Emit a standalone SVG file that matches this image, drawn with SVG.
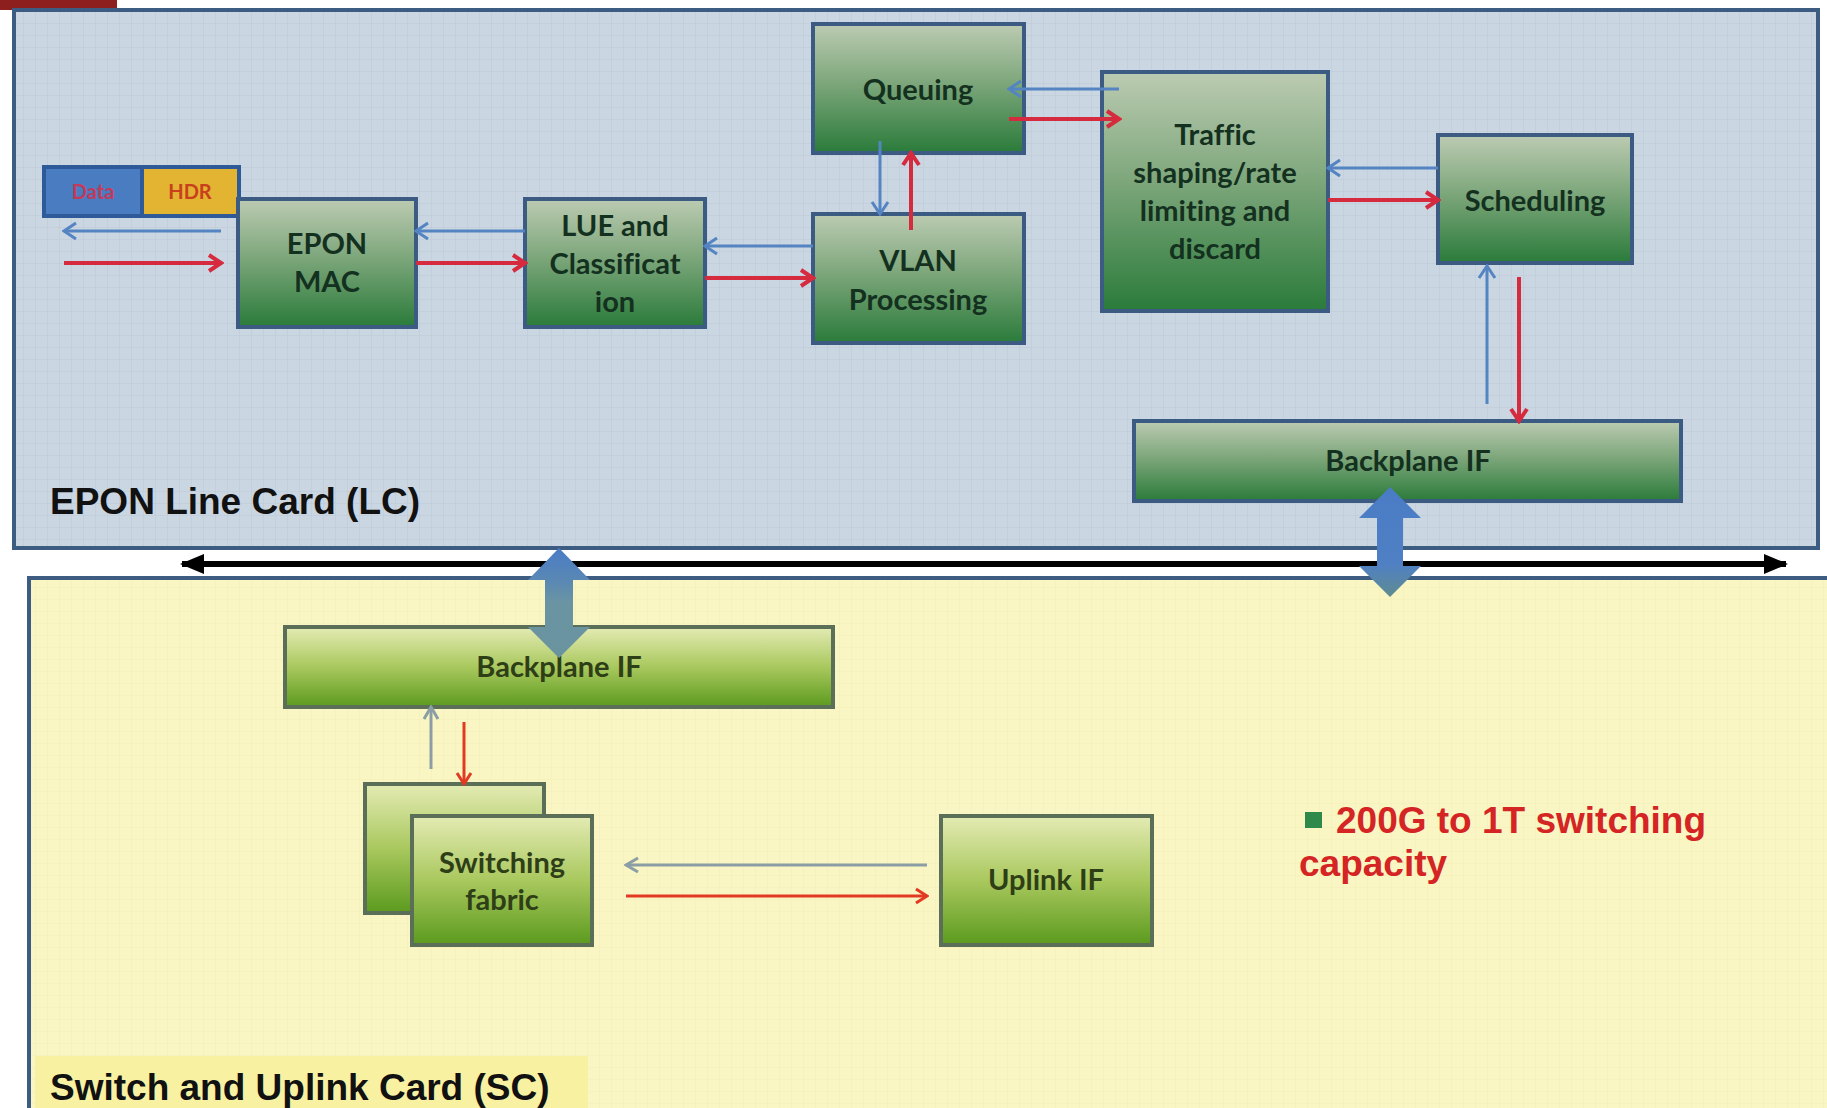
<svg xmlns="http://www.w3.org/2000/svg" width="1827" height="1108" viewBox="0 0 1827 1108">
  <defs>
    <linearGradient id="gLC" x1="0" y1="0" x2="0" y2="1">
      <stop offset="0" stop-color="#bccbb2"/>
      <stop offset="0.45" stop-color="#7ea77c"/>
      <stop offset="1" stop-color="#2a7b3a"/>
    </linearGradient>
    <linearGradient id="gSC" x1="0" y1="0" x2="0" y2="1">
      <stop offset="0" stop-color="#e4ebb4"/>
      <stop offset="0.5" stop-color="#a9c85e"/>
      <stop offset="1" stop-color="#5b9a1e"/>
    </linearGradient>
    <linearGradient id="gBigR" x1="0" y1="0" x2="0" y2="1">
      <stop offset="0" stop-color="#4a7cc6"/>
      <stop offset="0.7" stop-color="#4f80c4"/>
      <stop offset="1" stop-color="#5f8c90"/>
    </linearGradient>
    <linearGradient id="gBigL" x1="0" y1="0" x2="0" y2="1">
      <stop offset="0" stop-color="#4a7cc6"/>
      <stop offset="0.3" stop-color="#5a88b4"/>
      <stop offset="0.5" stop-color="#6b94a2"/>
      <stop offset="1" stop-color="#6a93a0"/>
    </linearGradient>
    <pattern id="gridLC" width="12" height="12" patternUnits="userSpaceOnUse">
      <rect width="12" height="12" fill="#cad6e1"/>
      <path d="M12,0 V12 M0,12 H12" stroke="#bccad8" stroke-width="1" fill="none"/>
    </pattern>
    <pattern id="gridSC" width="12" height="12" patternUnits="userSpaceOnUse">
      <rect width="12" height="12" fill="#f9f6c3"/>
      <path d="M12,0 V12 M0,12 H12" stroke="#f2eeb8" stroke-width="1" fill="none"/>
    </pattern>
    <marker id="hRed" viewBox="0 0 18 22" refX="15" refY="11" markerWidth="18" markerHeight="22" markerUnits="userSpaceOnUse" orient="auto">
      <path d="M3,3 L15,11 L3,19" fill="none" stroke="#d62a3e" stroke-width="4"/>
    </marker>
    <marker id="hBlue" viewBox="0 0 16 20" refX="14" refY="10" markerWidth="16" markerHeight="20" markerUnits="userSpaceOnUse" orient="auto">
      <path d="M2,2 L14,10 L2,18" fill="none" stroke="#5484c2" stroke-width="3"/>
    </marker>
    <marker id="hOrange" viewBox="0 0 16 20" refX="14" refY="10" markerWidth="16" markerHeight="20" markerUnits="userSpaceOnUse" orient="auto">
      <path d="M3,3 L14,10 L3,17" fill="none" stroke="#e23a22" stroke-width="3"/>
    </marker>
    <marker id="hGrey" viewBox="0 0 16 20" refX="14" refY="10" markerWidth="16" markerHeight="20" markerUnits="userSpaceOnUse" orient="auto">
      <path d="M2,3 L14,10 L2,17" fill="none" stroke="#8b9ea6" stroke-width="3"/>
    </marker>
    <marker id="hBlack" viewBox="0 0 24 20" refX="22" refY="10" markerWidth="24" markerHeight="20" markerUnits="userSpaceOnUse" orient="auto-start-reverse">
      <path d="M0,0 L24,10 L0,20 Z" fill="#000"/>
    </marker>
    <style>
      .lc { fill: url(#gLC); stroke: #3b5b82; stroke-width: 4; }
      .sc { fill: url(#gSC); stroke: #5b6f58; stroke-width: 4; }
      .t { font-family: Lato, "Open Sans", sans-serif; font-weight: 700; font-size: 29px; fill: #14301f; text-anchor: middle; font-variant-ligatures: none; }
      .ts { font-family: Lato, "Open Sans", sans-serif; font-weight: 700; font-size: 29px; fill: #2e3e16; text-anchor: middle; font-variant-ligatures: none; }
      .lbl { font-family: "Liberation Sans", Arial, sans-serif; font-weight: 700; font-size: 37px; fill: #111; }
      .red { stroke: #d62a3e; stroke-width: 4; fill: none; marker-end: url(#hRed); }
      .blue { stroke: #5484c2; stroke-width: 3; fill: none; marker-end: url(#hBlue); }
      .org { stroke: #e23a22; stroke-width: 3; fill: none; marker-end: url(#hOrange); }
      .grey { stroke: #8b9ea6; stroke-width: 3; fill: none; marker-end: url(#hGrey); }
    </style>
  </defs>

  <rect width="1827" height="1108" fill="#ffffff"/>

  <!-- corner tab -->
  <rect x="0" y="0" width="117" height="10" fill="#8e1f1f"/>

  <!-- line card panel -->
  <g id="panel-lc">
    <rect x="14" y="10" width="1804" height="538" fill="url(#gridLC)" stroke="#3d5c82" stroke-width="4"/>
    <text class="lbl" x="50" y="514">EPON Line Card (LC)</text>
  </g>

  <!-- switch and uplink card panel -->
  <g id="panel-sc">
    <rect x="29" y="578" width="1810" height="560" fill="url(#gridSC)" stroke="#3d5c82" stroke-width="4"/>
    <rect x="35" y="1056" width="553" height="52" fill="#f8f1a2"/>
    <text class="lbl" x="50" y="1100">Switch and Uplink Card (SC)</text>
  </g>

  <!-- backplane bus -->
  <g id="bus">
    <line x1="178" y1="564" x2="1790" y2="564" stroke="#ffffff" stroke-width="14"/>
    <line x1="182" y1="564" x2="1786" y2="564" stroke="#000" stroke-width="6" marker-start="url(#hBlack)" marker-end="url(#hBlack)"/>
  </g>

  <!-- frame header -->
  <g id="data-hdr">
    <rect x="44" y="167" width="98" height="49" fill="#4a7cc2" stroke="#2f5a9a" stroke-width="4"/>
    <rect x="142" y="167" width="97" height="49" fill="#e2b432" stroke="#2f5a9a" stroke-width="4"/>
    <text x="93" y="199" font-family="Lato, sans-serif" font-weight="700" font-size="20" fill="#c23a5a" text-anchor="middle">Data</text>
    <text x="190" y="199" font-family="Lato, sans-serif" font-weight="700" font-size="20" fill="#c8401c" text-anchor="middle">HDR</text>
  </g>

  <g id="epon-mac">
    <rect class="lc" x="238" y="199" width="178" height="128"/>
    <text class="t" x="327" y="254">EPON</text>
    <text class="t" x="327" y="292">MAC</text>
  </g>

  <g id="lue">
    <rect class="lc" x="525" y="199" width="180" height="128"/>
    <text class="t" x="615" y="236">LUE and</text>
    <text class="t" x="615" y="274">Classificat</text>
    <text class="t" x="615" y="312">ion</text>
  </g>

  <g id="queuing">
    <rect class="lc" x="813" y="24" width="211" height="129"/>
    <text class="t" x="918" y="100">Queuing</text>
  </g>

  <g id="vlan">
    <rect class="lc" x="813" y="214" width="211" height="129"/>
    <text class="t" x="918" y="271">VLAN</text>
    <text class="t" x="918" y="310">Processing</text>
  </g>

  <g id="traffic">
    <rect class="lc" x="1102" y="72" width="226" height="239"/>
    <text class="t" x="1215" y="145">Traffic</text>
    <text class="t" x="1215" y="183">shaping/rate</text>
    <text class="t" x="1215" y="221">limiting and</text>
    <text class="t" x="1215" y="259">discard</text>
  </g>

  <g id="scheduling">
    <rect class="lc" x="1438" y="135" width="194" height="128"/>
    <text class="t" x="1535" y="211">Scheduling</text>
  </g>

  <g id="backplane-lc">
    <rect class="lc" x="1134" y="421" width="547" height="80"/>
    <text class="t" x="1408" y="471">Backplane IF</text>
  </g>

  <g id="backplane-sc">
    <rect class="sc" x="285" y="627" width="548" height="80"/>
    <text class="ts" x="559" y="677">Backplane IF</text>
  </g>

  <g id="switching-fabric">
    <rect class="sc" x="365" y="784" width="179" height="129"/>
    <rect class="sc" x="412" y="816" width="180" height="129"/>
    <text class="ts" x="502" y="873">Switching</text>
    <text class="ts" x="502" y="910">fabric</text>
  </g>

  <g id="uplink">
    <rect class="sc" x="941" y="816" width="211" height="129"/>
    <text class="ts" x="1046" y="890">Uplink IF</text>
  </g>

  <g id="capacity-note">
    <rect x="1305" y="812" width="17" height="16" fill="#2e8a4a"/>
    <text x="1336" y="833" font-family="'Liberation Sans', Arial, sans-serif" font-weight="700" font-size="37" fill="#d42424">200G to 1T switching</text>
    <text x="1299" y="876" font-family="'Liberation Sans', Arial, sans-serif" font-weight="700" font-size="37" fill="#d42424">capacity</text>
  </g>

  <!-- data flow connectors -->
  <g id="connectors">
    <line class="blue" x1="221" y1="231" x2="64" y2="231"/>
    <line class="red" x1="64" y1="263" x2="221" y2="263"/>
    <line class="blue" x1="525" y1="231" x2="416" y2="231"/>
    <line class="red" x1="416" y1="263" x2="525" y2="263"/>
    <line class="blue" x1="813" y1="246" x2="705" y2="246"/>
    <line class="red" x1="705" y1="278" x2="813" y2="278"/>
    <line class="blue" x1="880" y1="141" x2="880" y2="214" stroke-width="2.5"/>
    <line class="red" x1="911" y1="230" x2="911" y2="153"/>
    <line class="blue" x1="1119" y1="89" x2="1009" y2="89"/>
    <line class="red" x1="1009" y1="119" x2="1119" y2="119"/>
    <line class="blue" x1="1438" y1="168" x2="1328" y2="168"/>
    <line class="red" x1="1328" y1="200" x2="1438" y2="200"/>
    <line class="blue" x1="1487" y1="404" x2="1487" y2="266" stroke-width="2.5"/>
    <line class="red" x1="1519" y1="277" x2="1519" y2="421" stroke-width="3"/>

    <line class="grey" x1="431" y1="769" x2="431" y2="707"/>
    <line class="org" x1="464" y1="722" x2="464" y2="784"/>
    <line class="grey" x1="927" y1="865" x2="626" y2="865"/>
    <line class="org" x1="626" y1="896" x2="927" y2="896"/>

    <!-- wide two-way links to the bus -->
    <polygon points="1390,487 1421,518 1403,518 1403,566 1421,566 1390,597 1359,566 1377,566 1377,518 1359,518" fill="url(#gBigR)"/>
    <polygon points="559,548 590,580 573,580 573,627 590,627 559,658 528,627 545,627 545,580 528,580" fill="url(#gBigL)"/>
  </g>
</svg>
